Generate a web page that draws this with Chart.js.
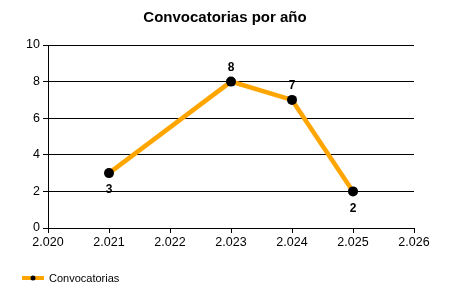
<!DOCTYPE html>
<html>
<head>
<meta charset="utf-8">
<script src="https://cdn.jsdelivr.net/npm/chart.js@4/dist/chart.umd.min.js"></script>
<style>
  html, body { margin: 0; padding: 0; background: #fff; }
  #wrap { width: 450px; height: 300px; }
</style>
</head>
<body>
<div id="wrap"><canvas id="chart"></canvas></div>
<script>
// datos del gráfico
const years = [2021, 2023, 2024, 2025];
const convocatorias = [3, 8, 7, 2];
const labelSide = ['below', 'above', 'above', 'below'];
const xTicks = [2020, 2021, 2022, 2023, 2024, 2025, 2026];
const yTicks = [0, 2, 4, 6, 8, 10];
const titulo = 'Convocatorias por año';

const ORANGE = '#FFA500';
const FONT = '"Liberation Sans", Arial, sans-serif';

function fmtYear(v) {
    const s = String(Math.round(v));
    return s.slice(0, s.length - 3) + '.' + s.slice(-3);
}

// título, etiquetas de valores y leyenda
const extras = {
    id: 'extras',
    afterDatasetsDraw(chart) {
        const ctx = chart.ctx;
        const meta = chart.getDatasetMeta(0);
        ctx.save();
        ctx.fillStyle = '#000';
        ctx.textBaseline = 'middle';

        ctx.font = 'bold 15px ' + FONT;
        ctx.textAlign = 'center';
        ctx.fillText(titulo, 225, 18);

        ctx.font = 'bold 12px ' + FONT;
        meta.data.forEach((pt, i) => {
            const dy = labelSide[i] === 'above' ? -14 : 17;
            ctx.fillText(String(convocatorias[i]), pt.x, pt.y + dy);
        });

        // leyenda
        const ly = 278;
        ctx.strokeStyle = ORANGE;
        ctx.lineWidth = 4;
        ctx.beginPath();
        ctx.moveTo(22, ly);
        ctx.lineTo(44, ly);
        ctx.stroke();
        ctx.beginPath();
        ctx.arc(33, ly, 2.5, 0, Math.PI * 2);
        ctx.fill();
        ctx.font = '11px ' + FONT;
        ctx.textAlign = 'left';
        ctx.fillText('Convocatorias', 49, ly + 0.5);
        ctx.restore();
    }
};

new Chart(document.getElementById('chart'), {
    type: 'line',
    data: {
        datasets: [{
            label: 'Convocatorias',
            data: years.map((y, i) => ({ x: y, y: convocatorias[i] })),
            borderColor: ORANGE,
            borderWidth: 4.5,
            pointBackgroundColor: '#000',
            pointBorderColor: '#000',
            pointRadius: 5,
            pointBorderWidth: 0,
            tension: 0
        }]
    },
    options: {
        responsive: true,
        maintainAspectRatio: false,
        animation: false,
        layout: { padding: { left: 0, right: 36, top: 45, bottom: 0 } },
        plugins: {
            legend: { display: false },
            tooltip: { enabled: false },
            title: { display: false }
        },
        scales: {
            x: {
                type: 'linear',
                min: 2020,
                max: 2026,
                afterBuildTicks: axis => { axis.ticks = xTicks.map(v => ({ value: v })); },
                afterFit: axis => { axis.height = 72; },
                ticks: {
                    color: '#000',
                    font: { family: FONT, size: 12.5 },
                    padding: 2,
                    maxRotation: 0,
                    callback: v => fmtYear(v)
                },
                grid: { drawOnChartArea: false, drawTicks: true, tickLength: 5, color: '#000' },
                border: { color: '#000', width: 1 }
            },
            y: {
                min: 0,
                max: 10,
                afterBuildTicks: axis => { axis.ticks = yTicks.map(v => ({ value: v })); },
                afterFit: axis => { axis.width = 48; },
                ticks: {
                    color: '#000',
                    font: { family: FONT, size: 12.5 },
                    padding: 3
                },
                grid: { color: '#000', tickLength: 5 },
                border: { color: '#000', width: 1 }
            }
        }
    },
    plugins: [extras]
});
</script>
</body>
</html>
